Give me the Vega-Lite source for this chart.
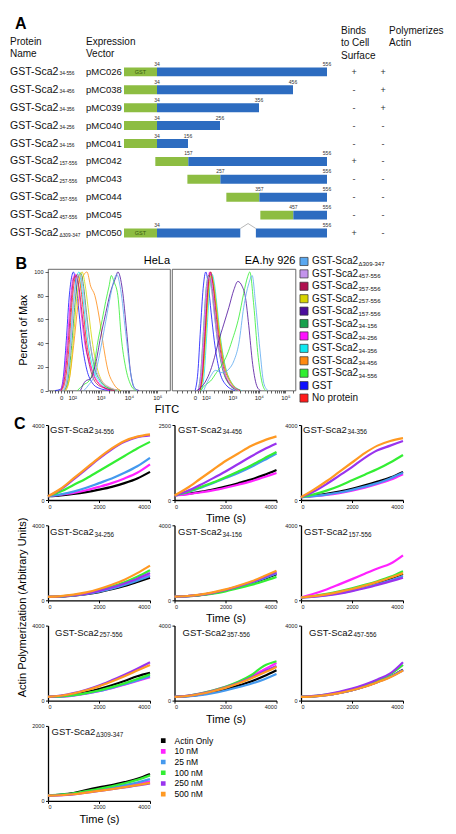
{
"$schema":"https://vega.github.io/schema/vega-lite/v6.json",
"padding":{"left":10,"top":15,"right":0,"bottom":0},
"config":{"font":"Liberation Sans","view":{"stroke":null},
 "axis":{"grid":false,"labelFontSize":5.5,"labelColor":"#222","domainColor":"#000","tickColor":"#000","domainWidth":1.3,"tickWidth":1,"tickSize":2.5,"labelPadding":1.5,"labelOverlap":false,"titleFontWeight":"normal","titleFontSize":11,"titleColor":"#000"},
 "title":{"fontWeight":"normal","fontSize":11,"color":"#000"},
 "text":{"color":"#111"}},
"datasets":{
 "constructs":[
  {"name":"GST-Sca2","sub":"34-556","vec":"pMC026","start":34,"end":556,"binds":"+","poly":"+"},
  {"name":"GST-Sca2","sub":"34-456","vec":"pMC038","start":34,"end":456,"binds":"-","poly":"+"},
  {"name":"GST-Sca2","sub":"34-356","vec":"pMC039","start":34,"end":356,"binds":"-","poly":"+"},
  {"name":"GST-Sca2","sub":"34-256","vec":"pMC040","start":34,"end":256,"binds":"-","poly":"-"},
  {"name":"GST-Sca2","sub":"34-156","vec":"pMC041","start":34,"end":156,"binds":"-","poly":"-"},
  {"name":"GST-Sca2","sub":"157-556","vec":"pMC042","start":157,"end":556,"binds":"+","poly":"-"},
  {"name":"GST-Sca2","sub":"257-556","vec":"pMC043","start":257,"end":556,"binds":"-","poly":"-"},
  {"name":"GST-Sca2","sub":"357-556","vec":"pMC044","start":357,"end":556,"binds":"-","poly":"-"},
  {"name":"GST-Sca2","sub":"457-556","vec":"pMC045","start":457,"end":556,"binds":"-","poly":"-"},
  {"name":"GST-Sca2","sub":"Δ309-347","vec":"pMC050","start":34,"end":556,"binds":"+","poly":"-"}],
 "segments":[
  {"vec":"pMC026","s":34,"e":556},{"vec":"pMC038","s":34,"e":456},{"vec":"pMC039","s":34,"e":356},
  {"vec":"pMC040","s":34,"e":256},{"vec":"pMC041","s":34,"e":156},{"vec":"pMC042","s":157,"e":556},
  {"vec":"pMC043","s":257,"e":556},{"vec":"pMC044","s":357,"e":556},{"vec":"pMC045","s":457,"e":556},
  {"vec":"pMC050","s":34,"e":308},{"vec":"pMC050","s":348,"e":556}],
 "legendB":[
  {"k":"Δ309-347","main":"GST-Sca2","sub":"Δ309-347"},{"k":"457-556","main":"GST-Sca2","sub":"457-556"},
  {"k":"357-556","main":"GST-Sca2","sub":"357-556"},{"k":"257-556","main":"GST-Sca2","sub":"257-556"},
  {"k":"157-556","main":"GST-Sca2","sub":"157-556"},{"k":"34-156","main":"GST-Sca2","sub":"34-156"},
  {"k":"34-256","main":"GST-Sca2","sub":"34-256"},{"k":"34-356","main":"GST-Sca2","sub":"34-356"},
  {"k":"34-456","main":"GST-Sca2","sub":"34-456"},{"k":"34-556","main":"GST-Sca2","sub":"34-556"},
  {"k":"GST","main":"GST","sub":""},{"k":"No protein","main":"No protein","sub":""}],
 "flow":[
  {"c":"H","k":"GST","u":1.4,"p":0},{"c":"H","k":"GST","u":1.59,"p":1},{"c":"H","k":"GST","u":1.69,"p":12},{"c":"H","k":"GST","u":1.79,"p":42},{"c":"H","k":"GST","u":1.89,"p":78},{"c":"H","k":"GST","u":1.99,"p":97},{"c":"H","k":"GST","u":2.04,"p":100},{"c":"H","k":"GST","u":2.14,"p":88},{"c":"H","k":"GST","u":2.24,"p":66},{"c":"H","k":"GST","u":2.34,"p":42},{"c":"H","k":"GST","u":2.49,"p":20},{"c":"H","k":"GST","u":2.69,"p":7},{"c":"H","k":"GST","u":2.94,"p":2},{"c":"H","k":"GST","u":3.34,"p":0},
  {"c":"H","k":"No protein","u":1.62,"p":0},{"c":"H","k":"No protein","u":1.75,"p":8},{"c":"H","k":"No protein","u":1.88,"p":35},{"c":"H","k":"No protein","u":1.98,"p":70},{"c":"H","k":"No protein","u":2.1,"p":95},{"c":"H","k":"No protein","u":2.18,"p":98},{"c":"H","k":"No protein","u":2.28,"p":90},{"c":"H","k":"No protein","u":2.38,"p":70},{"c":"H","k":"No protein","u":2.48,"p":46},{"c":"H","k":"No protein","u":2.63,"p":24},{"c":"H","k":"No protein","u":2.83,"p":9},{"c":"H","k":"No protein","u":3.1,"p":3},{"c":"H","k":"No protein","u":3.5,"p":0},
  {"c":"H","k":"34-456","u":1.75,"p":0},{"c":"H","k":"34-456","u":1.9,"p":10},{"c":"H","k":"34-456","u":2.05,"p":38},{"c":"H","k":"34-456","u":2.2,"p":72},{"c":"H","k":"34-456","u":2.32,"p":92},{"c":"H","k":"34-456","u":2.42,"p":98},{"c":"H","k":"34-456","u":2.52,"p":100},{"c":"H","k":"34-456","u":2.65,"p":88},{"c":"H","k":"34-456","u":2.8,"p":80},{"c":"H","k":"34-456","u":2.95,"p":62},{"c":"H","k":"34-456","u":3.1,"p":38},{"c":"H","k":"34-456","u":3.25,"p":18},{"c":"H","k":"34-456","u":3.45,"p":6},{"c":"H","k":"34-456","u":3.7,"p":0},
  {"c":"H","k":"34-356","u":1.68,"p":0},{"c":"H","k":"34-356","u":1.8,"p":8},{"c":"H","k":"34-356","u":1.92,"p":36},{"c":"H","k":"34-356","u":2.03,"p":72},{"c":"H","k":"34-356","u":2.14,"p":94},{"c":"H","k":"34-356","u":2.24,"p":100},{"c":"H","k":"34-356","u":2.34,"p":86},{"c":"H","k":"34-356","u":2.44,"p":64},{"c":"H","k":"34-356","u":2.56,"p":40},{"c":"H","k":"34-356","u":2.72,"p":20},{"c":"H","k":"34-356","u":2.95,"p":8},{"c":"H","k":"34-356","u":3.25,"p":2},{"c":"H","k":"34-356","u":3.6,"p":0},
  {"c":"H","k":"34-256","u":1.58,"p":0},{"c":"H","k":"34-256","u":1.7,"p":10},{"c":"H","k":"34-256","u":1.82,"p":40},{"c":"H","k":"34-256","u":1.93,"p":75},{"c":"H","k":"34-256","u":2.03,"p":95},{"c":"H","k":"34-256","u":2.12,"p":98},{"c":"H","k":"34-256","u":2.22,"p":86},{"c":"H","k":"34-256","u":2.32,"p":64},{"c":"H","k":"34-256","u":2.44,"p":40},{"c":"H","k":"34-256","u":2.6,"p":24},{"c":"H","k":"34-256","u":2.75,"p":14},{"c":"H","k":"34-256","u":2.95,"p":6},{"c":"H","k":"34-256","u":3.3,"p":0},
  {"c":"H","k":"34-156","u":1.72,"p":0},{"c":"H","k":"34-156","u":1.85,"p":9},{"c":"H","k":"34-156","u":1.98,"p":38},{"c":"H","k":"34-156","u":2.1,"p":74},{"c":"H","k":"34-156","u":2.2,"p":95},{"c":"H","k":"34-156","u":2.3,"p":99},{"c":"H","k":"34-156","u":2.4,"p":88},{"c":"H","k":"34-156","u":2.5,"p":66},{"c":"H","k":"34-156","u":2.62,"p":42},{"c":"H","k":"34-156","u":2.78,"p":20},{"c":"H","k":"34-156","u":3.0,"p":8},{"c":"H","k":"34-156","u":3.3,"p":2},{"c":"H","k":"34-156","u":3.7,"p":0},
  {"c":"H","k":"257-556","u":1.78,"p":0},{"c":"H","k":"257-556","u":1.9,"p":10},{"c":"H","k":"257-556","u":2.03,"p":40},{"c":"H","k":"257-556","u":2.15,"p":75},{"c":"H","k":"257-556","u":2.26,"p":95},{"c":"H","k":"257-556","u":2.35,"p":100},{"c":"H","k":"257-556","u":2.45,"p":90},{"c":"H","k":"257-556","u":2.56,"p":70},{"c":"H","k":"257-556","u":2.68,"p":46},{"c":"H","k":"257-556","u":2.85,"p":22},{"c":"H","k":"257-556","u":3.05,"p":8},{"c":"H","k":"257-556","u":3.35,"p":2},{"c":"H","k":"257-556","u":3.7,"p":0},
  {"c":"H","k":"357-556","u":1.6,"p":0},{"c":"H","k":"357-556","u":1.72,"p":9},{"c":"H","k":"357-556","u":1.85,"p":38},{"c":"H","k":"357-556","u":1.96,"p":74},{"c":"H","k":"357-556","u":2.06,"p":95},{"c":"H","k":"357-556","u":2.15,"p":97},{"c":"H","k":"357-556","u":2.25,"p":85},{"c":"H","k":"357-556","u":2.36,"p":62},{"c":"H","k":"357-556","u":2.48,"p":38},{"c":"H","k":"357-556","u":2.64,"p":18},{"c":"H","k":"357-556","u":2.85,"p":6},{"c":"H","k":"357-556","u":3.15,"p":2},{"c":"H","k":"357-556","u":3.5,"p":0},
  {"c":"H","k":"457-556","u":1.7,"p":0},{"c":"H","k":"457-556","u":1.82,"p":10},{"c":"H","k":"457-556","u":1.95,"p":40},{"c":"H","k":"457-556","u":2.06,"p":76},{"c":"H","k":"457-556","u":2.17,"p":94},{"c":"H","k":"457-556","u":2.27,"p":98},{"c":"H","k":"457-556","u":2.37,"p":88},{"c":"H","k":"457-556","u":2.47,"p":68},{"c":"H","k":"457-556","u":2.6,"p":44},{"c":"H","k":"457-556","u":2.76,"p":24},{"c":"H","k":"457-556","u":2.98,"p":10},{"c":"H","k":"457-556","u":3.3,"p":3},{"c":"H","k":"457-556","u":3.65,"p":0},
  {"c":"H","k":"34-556","u":2.18,"p":0},{"c":"H","k":"34-556","u":2.41,"p":5},{"c":"H","k":"34-556","u":2.59,"p":8},{"c":"H","k":"34-556","u":2.77,"p":20},{"c":"H","k":"34-556","u":2.88,"p":38},{"c":"H","k":"34-556","u":3.06,"p":60},{"c":"H","k":"34-556","u":3.18,"p":75},{"c":"H","k":"34-556","u":3.3,"p":88},{"c":"H","k":"34-556","u":3.38,"p":97},{"c":"H","k":"34-556","u":3.47,"p":92},{"c":"H","k":"34-556","u":3.61,"p":80},{"c":"H","k":"34-556","u":3.73,"p":45},{"c":"H","k":"34-556","u":3.88,"p":20},{"c":"H","k":"34-556","u":4.06,"p":5},{"c":"H","k":"34-556","u":4.24,"p":0},
  {"c":"H","k":"157-556","u":2.29,"p":0},{"c":"H","k":"157-556","u":2.47,"p":8},{"c":"H","k":"157-556","u":2.65,"p":10},{"c":"H","k":"157-556","u":2.82,"p":22},{"c":"H","k":"157-556","u":3.0,"p":45},{"c":"H","k":"157-556","u":3.18,"p":65},{"c":"H","k":"157-556","u":3.35,"p":83},{"c":"H","k":"157-556","u":3.53,"p":95},{"c":"H","k":"157-556","u":3.61,"p":100},{"c":"H","k":"157-556","u":3.77,"p":85},{"c":"H","k":"157-556","u":3.92,"p":50},{"c":"H","k":"157-556","u":4.06,"p":15},{"c":"H","k":"157-556","u":4.2,"p":2},{"c":"H","k":"157-556","u":4.36,"p":0},
  {"c":"H","k":"Δ309-347","u":2.41,"p":0},{"c":"H","k":"Δ309-347","u":2.59,"p":5},{"c":"H","k":"Δ309-347","u":2.82,"p":15},{"c":"H","k":"Δ309-347","u":3.0,"p":35},{"c":"H","k":"Δ309-347","u":3.18,"p":58},{"c":"H","k":"Δ309-347","u":3.35,"p":80},{"c":"H","k":"Δ309-347","u":3.5,"p":95},{"c":"H","k":"Δ309-347","u":3.57,"p":98},{"c":"H","k":"Δ309-347","u":3.71,"p":85},{"c":"H","k":"Δ309-347","u":3.88,"p":50},{"c":"H","k":"Δ309-347","u":4.04,"p":18},{"c":"H","k":"Δ309-347","u":4.18,"p":3},{"c":"H","k":"Δ309-347","u":4.3,"p":0},
  {"c":"E","k":"GST","u":1.6,"p":0},{"c":"E","k":"GST","u":1.7,"p":15},{"c":"E","k":"GST","u":1.8,"p":52},{"c":"E","k":"GST","u":1.9,"p":86},{"c":"E","k":"GST","u":2.0,"p":100},{"c":"E","k":"GST","u":2.1,"p":88},{"c":"E","k":"GST","u":2.2,"p":66},{"c":"E","k":"GST","u":2.32,"p":42},{"c":"E","k":"GST","u":2.5,"p":18},{"c":"E","k":"GST","u":2.75,"p":5},{"c":"E","k":"GST","u":3.1,"p":0},
  {"c":"E","k":"No protein","u":1.78,"p":0},{"c":"E","k":"No protein","u":1.88,"p":14},{"c":"E","k":"No protein","u":1.98,"p":48},{"c":"E","k":"No protein","u":2.08,"p":84},{"c":"E","k":"No protein","u":2.18,"p":98},{"c":"E","k":"No protein","u":2.28,"p":90},{"c":"E","k":"No protein","u":2.38,"p":72},{"c":"E","k":"No protein","u":2.5,"p":48},{"c":"E","k":"No protein","u":2.68,"p":22},{"c":"E","k":"No protein","u":2.93,"p":7},{"c":"E","k":"No protein","u":3.3,"p":0},
  {"c":"E","k":"34-456","u":1.78,"p":0},{"c":"E","k":"34-456","u":1.88,"p":12},{"c":"E","k":"34-456","u":1.98,"p":45},{"c":"E","k":"34-456","u":2.08,"p":82},{"c":"E","k":"34-456","u":2.18,"p":100},{"c":"E","k":"34-456","u":2.28,"p":92},{"c":"E","k":"34-456","u":2.38,"p":75},{"c":"E","k":"34-456","u":2.5,"p":50},{"c":"E","k":"34-456","u":2.68,"p":25},{"c":"E","k":"34-456","u":2.93,"p":8},{"c":"E","k":"34-456","u":3.3,"p":0},
  {"c":"E","k":"34-356","u":1.84,"p":0},{"c":"E","k":"34-356","u":1.94,"p":14},{"c":"E","k":"34-356","u":2.04,"p":48},{"c":"E","k":"34-356","u":2.14,"p":84},{"c":"E","k":"34-356","u":2.24,"p":98},{"c":"E","k":"34-356","u":2.34,"p":88},{"c":"E","k":"34-356","u":2.44,"p":68},{"c":"E","k":"34-356","u":2.56,"p":44},{"c":"E","k":"34-356","u":2.74,"p":20},{"c":"E","k":"34-356","u":2.99,"p":6},{"c":"E","k":"34-356","u":3.35,"p":0},
  {"c":"E","k":"34-256","u":1.75,"p":0},{"c":"E","k":"34-256","u":1.85,"p":16},{"c":"E","k":"34-256","u":1.95,"p":50},{"c":"E","k":"34-256","u":2.05,"p":86},{"c":"E","k":"34-256","u":2.15,"p":100},{"c":"E","k":"34-256","u":2.25,"p":86},{"c":"E","k":"34-256","u":2.35,"p":64},{"c":"E","k":"34-256","u":2.47,"p":40},{"c":"E","k":"34-256","u":2.65,"p":18},{"c":"E","k":"34-256","u":2.9,"p":5},{"c":"E","k":"34-256","u":3.25,"p":0},
  {"c":"E","k":"34-156","u":1.71,"p":0},{"c":"E","k":"34-156","u":1.81,"p":15},{"c":"E","k":"34-156","u":1.91,"p":50},{"c":"E","k":"34-156","u":2.01,"p":85},{"c":"E","k":"34-156","u":2.11,"p":97},{"c":"E","k":"34-156","u":2.21,"p":88},{"c":"E","k":"34-156","u":2.31,"p":68},{"c":"E","k":"34-156","u":2.43,"p":44},{"c":"E","k":"34-156","u":2.61,"p":20},{"c":"E","k":"34-156","u":2.86,"p":6},{"c":"E","k":"34-156","u":3.2,"p":0},
  {"c":"E","k":"257-556","u":1.8,"p":0},{"c":"E","k":"257-556","u":1.9,"p":14},{"c":"E","k":"257-556","u":2.0,"p":46},{"c":"E","k":"257-556","u":2.1,"p":82},{"c":"E","k":"257-556","u":2.2,"p":97},{"c":"E","k":"257-556","u":2.3,"p":90},{"c":"E","k":"257-556","u":2.4,"p":72},{"c":"E","k":"257-556","u":2.52,"p":48},{"c":"E","k":"257-556","u":2.7,"p":22},{"c":"E","k":"257-556","u":2.95,"p":7},{"c":"E","k":"257-556","u":3.3,"p":0},
  {"c":"E","k":"357-556","u":1.78,"p":0},{"c":"E","k":"357-556","u":1.88,"p":15},{"c":"E","k":"357-556","u":1.98,"p":50},{"c":"E","k":"357-556","u":2.08,"p":86},{"c":"E","k":"357-556","u":2.18,"p":100},{"c":"E","k":"357-556","u":2.28,"p":88},{"c":"E","k":"357-556","u":2.38,"p":66},{"c":"E","k":"357-556","u":2.5,"p":42},{"c":"E","k":"357-556","u":2.68,"p":18},{"c":"E","k":"357-556","u":2.93,"p":5},{"c":"E","k":"357-556","u":3.3,"p":0},
  {"c":"E","k":"457-556","u":1.71,"p":0},{"c":"E","k":"457-556","u":1.81,"p":14},{"c":"E","k":"457-556","u":1.91,"p":48},{"c":"E","k":"457-556","u":2.01,"p":84},{"c":"E","k":"457-556","u":2.11,"p":96},{"c":"E","k":"457-556","u":2.21,"p":86},{"c":"E","k":"457-556","u":2.31,"p":66},{"c":"E","k":"457-556","u":2.43,"p":44},{"c":"E","k":"457-556","u":2.61,"p":22},{"c":"E","k":"457-556","u":2.86,"p":8},{"c":"E","k":"457-556","u":3.25,"p":0},
  {"c":"E","k":"34-556","u":1.8,"p":0},{"c":"E","k":"34-556","u":2.0,"p":5},{"c":"E","k":"34-556","u":2.18,"p":8},{"c":"E","k":"34-556","u":2.4,"p":15},{"c":"E","k":"34-556","u":2.62,"p":22},{"c":"E","k":"34-556","u":2.8,"p":30},{"c":"E","k":"34-556","u":2.99,"p":42},{"c":"E","k":"34-556","u":3.25,"p":62},{"c":"E","k":"34-556","u":3.43,"p":82},{"c":"E","k":"34-556","u":3.58,"p":96},{"c":"E","k":"34-556","u":3.66,"p":100},{"c":"E","k":"34-556","u":3.81,"p":72},{"c":"E","k":"34-556","u":3.96,"p":32},{"c":"E","k":"34-556","u":4.13,"p":6},{"c":"E","k":"34-556","u":4.25,"p":0},
  {"c":"E","k":"157-556","u":1.67,"p":0},{"c":"E","k":"157-556","u":2.0,"p":8},{"c":"E","k":"157-556","u":2.18,"p":17},{"c":"E","k":"157-556","u":2.33,"p":28},{"c":"E","k":"157-556","u":2.49,"p":42},{"c":"E","k":"157-556","u":2.68,"p":56},{"c":"E","k":"157-556","u":2.87,"p":70},{"c":"E","k":"157-556","u":3.06,"p":85},{"c":"E","k":"157-556","u":3.21,"p":92},{"c":"E","k":"157-556","u":3.37,"p":88},{"c":"E","k":"157-556","u":3.5,"p":78},{"c":"E","k":"157-556","u":3.62,"p":55},{"c":"E","k":"157-556","u":3.77,"p":22},{"c":"E","k":"157-556","u":3.94,"p":3},{"c":"E","k":"157-556","u":4.06,"p":0},
  {"c":"E","k":"Δ309-347","u":1.92,"p":0},{"c":"E","k":"Δ309-347","u":2.18,"p":12},{"c":"E","k":"Δ309-347","u":2.36,"p":17},{"c":"E","k":"Δ309-347","u":2.62,"p":15},{"c":"E","k":"Δ309-347","u":2.87,"p":18},{"c":"E","k":"Δ309-347","u":3.06,"p":25},{"c":"E","k":"Δ309-347","u":3.25,"p":40},{"c":"E","k":"Δ309-347","u":3.43,"p":70},{"c":"E","k":"Δ309-347","u":3.62,"p":90},{"c":"E","k":"Δ309-347","u":3.75,"p":97},{"c":"E","k":"Δ309-347","u":3.87,"p":75},{"c":"E","k":"Δ309-347","u":4.04,"p":35},{"c":"E","k":"Δ309-347","u":4.19,"p":6},{"c":"E","k":"Δ309-347","u":4.34,"p":0}],
 "poly":[
  {"p":"34-556","t":0,"Actin Only":200,"10 nM":200,"25 nM":200,"100 nM":200,"250 nM":200,"500 nM":200},
  {"p":"34-556","t":500,"Actin Only":250,"10 nM":280,"25 nM":300,"100 nM":450,"250 nM":570,"500 nM":600},
  {"p":"34-556","t":1000,"Actin Only":320,"10 nM":380,"25 nM":450,"100 nM":800,"250 nM":1100,"500 nM":1150},
  {"p":"34-556","t":1500,"Actin Only":420,"10 nM":520,"25 nM":650,"100 nM":1150,"250 nM":1650,"500 nM":1700},
  {"p":"34-556","t":2000,"Actin Only":550,"10 nM":700,"25 nM":900,"100 nM":1550,"250 nM":2200,"500 nM":2250},
  {"p":"34-556","t":2500,"Actin Only":700,"10 nM":900,"25 nM":1150,"100 nM":1950,"250 nM":2700,"500 nM":2750},
  {"p":"34-556","t":3000,"Actin Only":900,"10 nM":1150,"25 nM":1450,"100 nM":2350,"250 nM":3100,"500 nM":3150},
  {"p":"34-556","t":3500,"Actin Only":1150,"10 nM":1450,"25 nM":1800,"100 nM":2750,"250 nM":3350,"500 nM":3380},
  {"p":"34-556","t":4000,"Actin Only":1500,"10 nM":1900,"25 nM":2250,"100 nM":3100,"250 nM":3450,"500 nM":3500},
  {"p":"34-456","t":0,"Actin Only":150,"10 nM":150,"25 nM":150,"100 nM":150,"250 nM":150,"500 nM":150},
  {"p":"34-456","t":500,"Actin Only":200,"10 nM":190,"25 nM":260,"100 nM":270,"250 nM":300,"500 nM":400},
  {"p":"34-456","t":1000,"Actin Only":270,"10 nM":250,"25 nM":400,"100 nM":420,"250 nM":500,"500 nM":700},
  {"p":"34-456","t":1500,"Actin Only":350,"10 nM":320,"25 nM":560,"100 nM":580,"250 nM":720,"500 nM":1000},
  {"p":"34-456","t":2000,"Actin Only":450,"10 nM":410,"25 nM":730,"100 nM":760,"250 nM":950,"500 nM":1300},
  {"p":"34-456","t":2500,"Actin Only":560,"10 nM":510,"25 nM":900,"100 nM":950,"250 nM":1200,"500 nM":1550},
  {"p":"34-456","t":3000,"Actin Only":680,"10 nM":620,"25 nM":1100,"100 nM":1150,"250 nM":1450,"500 nM":1800},
  {"p":"34-456","t":3500,"Actin Only":830,"10 nM":760,"25 nM":1320,"100 nM":1380,"250 nM":1680,"500 nM":1980},
  {"p":"34-456","t":4000,"Actin Only":1000,"10 nM":900,"25 nM":1550,"100 nM":1600,"250 nM":1880,"500 nM":2120},
  {"p":"34-356","t":0,"Actin Only":150,"10 nM":150,"25 nM":150,"100 nM":150,"250 nM":150,"500 nM":150},
  {"p":"34-356","t":500,"Actin Only":230,"10 nM":200,"25 nM":210,"100 nM":300,"250 nM":450,"500 nM":550},
  {"p":"34-356","t":1000,"Actin Only":330,"10 nM":270,"25 nM":290,"100 nM":500,"250 nM":850,"500 nM":1000},
  {"p":"34-356","t":1500,"Actin Only":450,"10 nM":370,"25 nM":400,"100 nM":750,"250 nM":1300,"500 nM":1500},
  {"p":"34-356","t":2000,"Actin Only":600,"10 nM":500,"25 nM":540,"100 nM":1050,"250 nM":1750,"500 nM":2000},
  {"p":"34-356","t":2500,"Actin Only":780,"10 nM":660,"25 nM":710,"100 nM":1350,"250 nM":2250,"500 nM":2500},
  {"p":"34-356","t":3000,"Actin Only":980,"10 nM":850,"25 nM":900,"100 nM":1650,"250 nM":2650,"500 nM":2900},
  {"p":"34-356","t":3500,"Actin Only":1200,"10 nM":1080,"25 nM":1150,"100 nM":2000,"250 nM":2900,"500 nM":3150},
  {"p":"34-356","t":4000,"Actin Only":1500,"10 nM":1380,"25 nM":1450,"100 nM":2400,"250 nM":3150,"500 nM":3300},
  {"p":"34-256","t":0,"Actin Only":180,"10 nM":180,"25 nM":180,"100 nM":180,"250 nM":180,"500 nM":180},
  {"p":"34-256","t":500,"Actin Only":200,"10 nM":205,"25 nM":200,"100 nM":210,"250 nM":210,"500 nM":220},
  {"p":"34-256","t":1000,"Actin Only":250,"10 nM":260,"25 nM":255,"100 nM":280,"250 nM":270,"500 nM":300},
  {"p":"34-256","t":1500,"Actin Only":330,"10 nM":350,"25 nM":340,"100 nM":380,"250 nM":360,"500 nM":420},
  {"p":"34-256","t":2000,"Actin Only":440,"10 nM":480,"25 nM":460,"100 nM":530,"250 nM":500,"500 nM":600},
  {"p":"34-256","t":2500,"Actin Only":590,"10 nM":650,"25 nM":620,"100 nM":730,"250 nM":680,"500 nM":830},
  {"p":"34-256","t":3000,"Actin Only":770,"10 nM":860,"25 nM":820,"100 nM":960,"250 nM":900,"500 nM":1100},
  {"p":"34-256","t":3500,"Actin Only":980,"10 nM":1100,"25 nM":1050,"100 nM":1250,"250 nM":1150,"500 nM":1450},
  {"p":"34-256","t":4000,"Actin Only":1200,"10 nM":1350,"25 nM":1300,"100 nM":1600,"250 nM":1450,"500 nM":1850},
  {"p":"34-156","t":0,"Actin Only":200,"10 nM":200,"25 nM":200,"100 nM":200,"250 nM":200,"500 nM":200},
  {"p":"34-156","t":500,"Actin Only":220,"10 nM":225,"25 nM":220,"100 nM":215,"250 nM":225,"500 nM":230},
  {"p":"34-156","t":1000,"Actin Only":280,"10 nM":290,"25 nM":285,"100 nM":270,"250 nM":290,"500 nM":300},
  {"p":"34-156","t":1500,"Actin Only":380,"10 nM":400,"25 nM":390,"100 nM":360,"250 nM":400,"500 nM":420},
  {"p":"34-156","t":2000,"Actin Only":520,"10 nM":550,"25 nM":530,"100 nM":480,"250 nM":550,"500 nM":580},
  {"p":"34-156","t":2500,"Actin Only":700,"10 nM":730,"25 nM":710,"100 nM":640,"250 nM":740,"500 nM":780},
  {"p":"34-156","t":3000,"Actin Only":900,"10 nM":940,"25 nM":920,"100 nM":820,"250 nM":960,"500 nM":1000},
  {"p":"34-156","t":3500,"Actin Only":1140,"10 nM":1200,"25 nM":1170,"100 nM":1020,"250 nM":1220,"500 nM":1280},
  {"p":"34-156","t":4000,"Actin Only":1400,"10 nM":1450,"25 nM":1430,"100 nM":1250,"250 nM":1500,"500 nM":1580},
  {"p":"157-556","t":0,"Actin Only":150,"10 nM":150,"25 nM":150,"100 nM":150,"250 nM":150,"500 nM":150},
  {"p":"157-556","t":500,"Actin Only":215,"10 nM":350,"25 nM":200,"100 nM":230,"250 nM":190,"500 nM":220},
  {"p":"157-556","t":1000,"Actin Only":310,"10 nM":580,"25 nM":280,"100 nM":340,"250 nM":260,"500 nM":320},
  {"p":"157-556","t":1500,"Actin Only":430,"10 nM":850,"25 nM":390,"100 nM":480,"250 nM":360,"500 nM":450},
  {"p":"157-556","t":2000,"Actin Only":580,"10 nM":1130,"25 nM":520,"100 nM":640,"250 nM":490,"500 nM":600},
  {"p":"157-556","t":2500,"Actin Only":750,"10 nM":1420,"25 nM":680,"100 nM":820,"250 nM":640,"500 nM":780},
  {"p":"157-556","t":3000,"Actin Only":950,"10 nM":1700,"25 nM":860,"100 nM":1020,"250 nM":820,"500 nM":980},
  {"p":"157-556","t":3500,"Actin Only":1170,"10 nM":1950,"25 nM":1060,"100 nM":1250,"250 nM":1010,"500 nM":1200},
  {"p":"157-556","t":4000,"Actin Only":1400,"10 nM":2400,"25 nM":1300,"100 nM":1550,"250 nM":1200,"500 nM":1450},
  {"p":"257-556","t":0,"Actin Only":200,"10 nM":200,"25 nM":200,"100 nM":200,"250 nM":200,"500 nM":200},
  {"p":"257-556","t":500,"Actin Only":240,"10 nM":210,"25 nM":215,"100 nM":220,"250 nM":270,"500 nM":260},
  {"p":"257-556","t":1000,"Actin Only":330,"10 nM":270,"25 nM":280,"100 nM":290,"250 nM":400,"500 nM":380},
  {"p":"257-556","t":1500,"Actin Only":460,"10 nM":370,"25 nM":380,"100 nM":400,"250 nM":580,"500 nM":550},
  {"p":"257-556","t":2000,"Actin Only":620,"10 nM":500,"25 nM":510,"100 nM":540,"250 nM":800,"500 nM":760},
  {"p":"257-556","t":2500,"Actin Only":820,"10 nM":660,"25 nM":680,"100 nM":720,"250 nM":1080,"500 nM":1020},
  {"p":"257-556","t":3000,"Actin Only":1050,"10 nM":850,"25 nM":870,"100 nM":920,"250 nM":1380,"500 nM":1300},
  {"p":"257-556","t":3500,"Actin Only":1300,"10 nM":1050,"25 nM":1080,"100 nM":1150,"250 nM":1700,"500 nM":1600},
  {"p":"257-556","t":4000,"Actin Only":1480,"10 nM":1250,"25 nM":1300,"100 nM":1400,"250 nM":2050,"500 nM":1900},
  {"p":"357-556","t":0,"Actin Only":200,"10 nM":200,"25 nM":200,"100 nM":200,"250 nM":200,"500 nM":200},
  {"p":"357-556","t":500,"Actin Only":235,"10 nM":260,"25 nM":220,"100 nM":260,"250 nM":250,"500 nM":245},
  {"p":"357-556","t":1000,"Actin Only":320,"10 nM":370,"25 nM":290,"100 nM":380,"250 nM":360,"500 nM":350},
  {"p":"357-556","t":1500,"Actin Only":450,"10 nM":530,"25 nM":400,"100 nM":540,"250 nM":510,"500 nM":500},
  {"p":"357-556","t":2000,"Actin Only":610,"10 nM":730,"25 nM":540,"100 nM":740,"250 nM":700,"500 nM":680},
  {"p":"357-556","t":2500,"Actin Only":800,"10 nM":980,"25 nM":710,"100 nM":1000,"250 nM":940,"500 nM":910},
  {"p":"357-556","t":3000,"Actin Only":1020,"10 nM":1300,"25 nM":900,"100 nM":1350,"250 nM":1220,"500 nM":1180},
  {"p":"357-556","t":3500,"Actin Only":1300,"10 nM":1650,"25 nM":1130,"100 nM":1850,"250 nM":1550,"500 nM":1480},
  {"p":"357-556","t":4000,"Actin Only":1620,"10 nM":2000,"25 nM":1420,"100 nM":2100,"250 nM":1850,"500 nM":1800},
  {"p":"457-556","t":0,"Actin Only":200,"10 nM":200,"25 nM":200,"100 nM":200,"250 nM":200,"500 nM":200},
  {"p":"457-556","t":500,"Actin Only":230,"10 nM":225,"25 nM":225,"100 nM":240,"250 nM":250,"500 nM":225},
  {"p":"457-556","t":1000,"Actin Only":300,"10 nM":295,"25 nM":295,"100 nM":320,"250 nM":340,"500 nM":295},
  {"p":"457-556","t":1500,"Actin Only":410,"10 nM":405,"25 nM":405,"100 nM":440,"250 nM":470,"500 nM":400},
  {"p":"457-556","t":2000,"Actin Only":560,"10 nM":555,"25 nM":555,"100 nM":600,"250 nM":640,"500 nM":550},
  {"p":"457-556","t":2500,"Actin Only":760,"10 nM":750,"25 nM":750,"100 nM":810,"250 nM":860,"500 nM":740},
  {"p":"457-556","t":3000,"Actin Only":1000,"10 nM":990,"25 nM":990,"100 nM":1080,"250 nM":1130,"500 nM":980},
  {"p":"457-556","t":3500,"Actin Only":1280,"10 nM":1270,"25 nM":1270,"100 nM":1400,"250 nM":1450,"500 nM":1250},
  {"p":"457-556","t":4000,"Actin Only":1650,"10 nM":1620,"25 nM":1620,"100 nM":1900,"250 nM":2050,"500 nM":1600},
  {"p":"Δ309-347","t":0,"Actin Only":150,"10 nM":150,"25 nM":150,"100 nM":150,"250 nM":140,"500 nM":140},
  {"p":"Δ309-347","t":500,"Actin Only":170,"10 nM":155,"25 nM":160,"100 nM":165,"250 nM":150,"500 nM":150},
  {"p":"Δ309-347","t":1000,"Actin Only":210,"10 nM":185,"25 nM":190,"100 nM":200,"250 nM":175,"500 nM":178},
  {"p":"Δ309-347","t":1500,"Actin Only":290,"10 nM":230,"25 nM":240,"100 nM":260,"250 nM":220,"500 nM":222},
  {"p":"Δ309-347","t":2000,"Actin Only":360,"10 nM":280,"25 nM":290,"100 nM":320,"250 nM":265,"500 nM":268},
  {"p":"Δ309-347","t":2500,"Actin Only":420,"10 nM":330,"25 nM":350,"100 nM":390,"250 nM":310,"500 nM":315},
  {"p":"Δ309-347","t":3000,"Actin Only":500,"10 nM":390,"25 nM":420,"100 nM":470,"250 nM":360,"500 nM":365},
  {"p":"Δ309-347","t":3500,"Actin Only":590,"10 nM":450,"25 nM":490,"100 nM":560,"250 nM":410,"500 nM":420},
  {"p":"Δ309-347","t":4000,"Actin Only":720,"10 nM":520,"25 nM":580,"100 nM":680,"250 nM":470,"500 nM":480}]
},
"vconcat":[
 {"vconcat":[
  {"hconcat":[
    {"width":38,"height":197,
     "layer":[
      {"data":{"name":"constructs"},"mark":{"type":"text","align":"left","baseline":"middle","fontSize":10.5},
       "encoding":{"x":{"datum":"name","type":"nominal","scale":{"type":"point","domain":["name","vec"],"range":[-38,38],"padding":0},"axis":null},
        "y":{"field":"vec","type":"nominal","scale":{"type":"band","domain":["hdr","pMC026","pMC038","pMC039","pMC040","pMC041","pMC042","pMC043","pMC044","pMC045","pMC050"],"paddingInner":0.5,"paddingOuter":0.25},"axis":null},
        "text":{"field":"name"}}},
      {"data":{"name":"constructs"},"mark":{"type":"text","align":"left","baseline":"middle","fontSize":4.8,"dx":49.5,"dy":2.5},
       "encoding":{"x":{"datum":"name","type":"nominal"},"y":{"field":"vec","type":"nominal"},"text":{"field":"sub"}}},
      {"data":{"name":"constructs"},"mark":{"type":"text","align":"left","baseline":"middle","fontSize":9.5},
       "encoding":{"x":{"datum":"vec","type":"nominal"},"y":{"field":"vec","type":"nominal"},"text":{"field":"vec"}}},
      {"data":{"values":[{"h":"Protein\nName","c":"name"},{"h":"Expression\nVector","c":"vec"}]},
       "mark":{"type":"text","align":"left","baseline":"bottom","fontSize":10,"lineBreak":"\n","lineHeight":12.5,"dy":-7},
       "encoding":{"x":{"field":"c","type":"nominal"},"y":{"datum":"hdr","type":"nominal"},"text":{"field":"h"}}},
      {"data":{"values":[{"l":"A"}]},
       "mark":{"type":"text","align":"left","baseline":"alphabetic","fontSize":16,"fontWeight":"bold","color":"#000","dx":5,"dy":-25},
       "encoding":{"x":{"datum":"name","type":"nominal"},"y":{"datum":"hdr","type":"nominal"},"text":{"field":"l"}}}
     ]},
    {"width":228,"height":197,
     "layer":[
      {"data":{"name":"constructs"},"mark":{"type":"bar","xOffset":-33,"color":"#8dbd42"},
       "encoding":{"x":{"field":"start","type":"quantitative","scale":{"type":"linear","domain":[34,156,256,356,456,556],"range":[51,82,114,153,187,221],"nice":false,"zero":false},"axis":null},
        "x2":{"field":"start"},
        "y":{"field":"vec","type":"nominal","scale":{"type":"band","domain":["hdr","pMC026","pMC038","pMC039","pMC040","pMC041","pMC042","pMC043","pMC044","pMC045","pMC050"],"paddingInner":0.5,"paddingOuter":0.25},"axis":null}}},
      {"data":{"name":"segments"},"mark":{"type":"bar","color":"#2d6cc0"},
       "encoding":{"x":{"field":"s","type":"quantitative"},"x2":{"field":"e"},"y":{"field":"vec","type":"nominal"}}},
      {"data":{"name":"constructs"},"transform":[{"filter":"datum.vec=='pMC026' || datum.vec=='pMC050'"}],
       "mark":{"type":"text","text":"GST","fontSize":5.5,"dx":-16.5,"color":"#3a5a12","baseline":"middle"},
       "encoding":{"x":{"field":"start","type":"quantitative"},"y":{"field":"vec","type":"nominal"}}},
      {"data":{"name":"constructs"},"mark":{"type":"text","fontSize":5,"dy":-8,"color":"#333","baseline":"middle"},
       "encoding":{"x":{"field":"start","type":"quantitative"},"y":{"field":"vec","type":"nominal"},"text":{"field":"start"}}},
      {"data":{"name":"constructs"},"mark":{"type":"text","fontSize":5,"dy":-8,"color":"#333","baseline":"middle"},
       "encoding":{"x":{"field":"end","type":"quantitative"},"y":{"field":"vec","type":"nominal"},"text":{"field":"end"}}},
      {"data":{"values":[{"vec":"pMC050","a":308,"b":328}]},"mark":{"type":"rule","color":"#999","strokeWidth":0.7,"yOffset":-4.5,"y2Offset":-9.5},
       "encoding":{"x":{"field":"a","type":"quantitative"},"x2":{"field":"b"},"y":{"field":"vec","type":"nominal"},"y2":{"field":"vec"}}},
      {"data":{"values":[{"vec":"pMC050","a":328,"b":348}]},"mark":{"type":"rule","color":"#999","strokeWidth":0.7,"yOffset":-9.5,"y2Offset":-4.5},
       "encoding":{"x":{"field":"a","type":"quantitative"},"x2":{"field":"b"},"y":{"field":"vec","type":"nominal"},"y2":{"field":"vec"}}}
     ]},
    {"width":29,"height":197,
     "layer":[
      {"data":{"name":"constructs"},"mark":{"type":"text","fontSize":9,"baseline":"middle","color":"#333"},
       "encoding":{"x":{"datum":"binds","type":"nominal","scale":{"type":"point","domain":["binds","poly"],"range":[0,29],"padding":0},"axis":null},
        "y":{"field":"vec","type":"nominal","scale":{"type":"band","domain":["hdr","pMC026","pMC038","pMC039","pMC040","pMC041","pMC042","pMC043","pMC044","pMC045","pMC050"],"paddingInner":0.5,"paddingOuter":0.25},"axis":null},
        "text":{"field":"binds"}}},
      {"data":{"name":"constructs"},"mark":{"type":"text","fontSize":9,"baseline":"middle","color":"#333"},
       "encoding":{"x":{"datum":"poly","type":"nominal"},"y":{"field":"vec","type":"nominal"},"text":{"field":"poly"}}},
      {"data":{"values":[{"h":"Binds\nto Cell\nSurface"}]},"mark":{"type":"text","align":"left","baseline":"bottom","fontSize":10,"lineBreak":"\n","lineHeight":12.5,"dy":-18,"dx":-13},
       "encoding":{"x":{"datum":"binds","type":"nominal"},"y":{"datum":"hdr","type":"nominal"},"text":{"field":"h"}}},
      {"data":{"values":[{"h":"Polymerizes\nActin"}]},"mark":{"type":"text","align":"left","baseline":"bottom","fontSize":10,"lineBreak":"\n","lineHeight":12.5,"dy":-18,"dx":6},
       "encoding":{"x":{"datum":"poly","type":"nominal"},"y":{"datum":"hdr","type":"nominal"},"text":{"field":"h"}}}
     ]}
   ],
   "spacing":20,"bounds":"flush"},
  {"hconcat":[
    {"width":122,"height":121.5,
     "view":{"stroke":"#444","strokeWidth":0.8},
     "title":{"text":"HeLa","anchor":"end","frame":"group","offset":3,"fontSize":11},
     "data":{"name":"flow"},"transform":[{"filter":"datum.c=='H'"}],
     "mark":{"type":"line","strokeWidth":0.8,"interpolate":"monotone"},
     "encoding":{
        "x":{"field":"u","type":"quantitative","scale":{"domain":[1.145,5.45],"nice":false,"zero":false},
          "axis":{"values":[1.2,1.3,1.4,1.5,1.61,1.7,1.8,1.9,2,2.301,2.477,2.602,2.699,2.778,2.845,2.903,2.954,3,3.301,3.477,3.602,3.699,3.778,3.845,3.903,3.954,4,4.301,4.477,4.602,4.699,4.778,4.845,4.903,4.954,5,5.301],
            "labelExpr":"abs(datum.value-1.61)<0.001 ? '0' : datum.value==2 ? '10²' : datum.value==3 ? '10³' : datum.value==4 ? '10⁴' : datum.value==5 ? '10⁵' : ''",
            "domain":false,"tickWidth":0.6,"tickSize":2.5,"labelFontSize":6,"labelPadding":1.5,"title":"FITC","titleX":118.5,"titleY":22,"titleBaseline":"alphabetic","titleFontSize":11}},
        "y":{"field":"p","type":"quantitative","scale":{"domain":[0,102.5],"nice":false},
          "axis":{"values":[0,20,40,60,80,100],"domain":false,"tickWidth":0.6,"tickSize":3,"labelPadding":2,"title":"Percent of Max","titleFontSize":10.5,"titleX":-19.5,"titleY":60.75}},
        "color":{"field":"k","type":"nominal","scale":{"domain":["Δ309-347","457-556","357-556","257-556","157-556","34-156","34-256","34-356","34-456","34-556","GST","No protein"],"range":["#5aa8f0","#c494ec","#b01050","#d8d400","#4b0c9c","#18a04c","#ff10ff","#10e8f0","#ff8a10","#30ee30","#1010ff","#ff1a1a"]},"legend":null}}},
    {"width":123.5,"height":121.5,
     "view":{"stroke":"#444","strokeWidth":0.8},
     "title":{"text":"EA.hy 926","anchor":"end","frame":"group","offset":3,"fontSize":11},
     "data":{"name":"flow"},"transform":[{"filter":"datum.c=='E'"}],
     "mark":{"type":"line","strokeWidth":0.8,"interpolate":"monotone"},
     "encoding":{
        "x":{"field":"u","type":"quantitative","scale":{"domain":[0.725,5.385],"nice":false,"zero":false},
          "axis":{"values":[0.9,1.1,1.3,1.45,1.59,1.7,1.8,1.9,2,2.301,2.477,2.602,2.699,2.778,2.845,2.903,2.954,3,3.301,3.477,3.602,3.699,3.778,3.845,3.903,3.954,4,4.301,4.477,4.602,4.699,4.778,4.845,4.903,4.954,5,5.301],
            "labelExpr":"abs(datum.value-1.59)<0.001 ? '0' : datum.value==2 ? '10²' : datum.value==3 ? '10³' : datum.value==4 ? '10⁴' : datum.value==5 ? '10⁵' : ''",
            "domain":false,"tickWidth":0.6,"tickSize":2.5,"labelFontSize":6,"labelPadding":1.5,"title":null}},
        "y":{"field":"p","type":"quantitative","scale":{"domain":[0,102.5],"nice":false},"axis":null},
        "color":{"field":"k","type":"nominal","scale":{"domain":["Δ309-347","457-556","357-556","257-556","157-556","34-156","34-256","34-356","34-456","34-556","GST","No protein"],"range":["#5aa8f0","#c494ec","#b01050","#d8d400","#4b0c9c","#18a04c","#ff10ff","#10e8f0","#ff8a10","#30ee30","#1010ff","#ff1a1a"]},"legend":null}}},
    {"width":12,"height":149,
     "data":{"name":"legendB"},
     "layer":[
      {"mark":{"type":"point","shape":"square","size":66,"filled":true,"opacity":1,"stroke":"#333","strokeWidth":0.7},
       "encoding":{"y":{"field":"k","type":"nominal","scale":{"type":"band","domain":["Δ309-347","457-556","357-556","257-556","157-556","34-156","34-256","34-356","34-456","34-556","GST","No protein"],"paddingInner":0,"paddingOuter":0},"axis":null},
        "color":{"field":"k","type":"nominal","scale":{"domain":["Δ309-347","457-556","357-556","257-556","157-556","34-156","34-256","34-356","34-456","34-556","GST","No protein"],"range":["#5aa8f0","#c494ec","#b01050","#d8d400","#4b0c9c","#18a04c","#ff10ff","#10e8f0","#ff8a10","#30ee30","#1010ff","#ff1a1a"]},"legend":null}}},
      {"mark":{"type":"text","align":"left","baseline":"middle","fontSize":10,"dx":8},
       "encoding":{"y":{"field":"k","type":"nominal"},"text":{"field":"main"}}},
      {"mark":{"type":"text","align":"left","baseline":"middle","fontSize":6,"dx":54.5,"dy":2.5},
       "encoding":{"y":{"field":"k","type":"nominal"},"text":{"field":"sub"}}},
      {"data":{"values":[{"l":"B","k":"Δ309-347"}]},
       "mark":{"type":"text","align":"left","baseline":"alphabetic","fontSize":16,"fontWeight":"bold","color":"#000","dx":-288.5,"dy":8},
       "encoding":{"y":{"field":"k","type":"nominal"},"text":{"field":"l"}}}
     ]}
   ],
   "spacing":2,"bounds":"flush","center":true,
   "resolve":{"scale":{"color":"independent"},"legend":{"color":"independent"}}}
 ],
 "spacing":12.25,
 "resolve":{"scale":{"color":"independent"},"legend":{"color":"independent"}}},
 {"concat":[
  {"width":102,"height":75,"layer":[
   {"data":{"name":"poly"},"transform":[{"filter":"datum.p=='34-556'"},{"fold":["Actin Only","10 nM","25 nM","100 nM","250 nM","500 nM"],"as":["conc","v"]}],
    "mark":{"type":"line","strokeWidth":2.2,"interpolate":"monotone"},
    "encoding":{"x":{"field":"t","type":"quantitative","scale":{"domain":[0,4000],"nice":false},"axis":{"values":[0,1000,2000,3000,4000],"format":"d","title":null}},
     "y":{"field":"v","type":"quantitative","scale":{"domain":[0,4000],"nice":false},"axis":{"values":[0,1000,2000,3000,4000],"format":"d","title":null}},
     "color":{"field":"conc","type":"nominal","scale":{"domain":["Actin Only","10 nM","25 nM","100 nM","250 nM","500 nM"],"range":["#000000","#ff22ff","#4499ee","#33ee33","#9933ee","#ff9922"]},"legend":null}}},
   {"data":{"values":[{"m":"GST-Sca2","s":"34-556","l":"C"}]},"layer":[
    {"mark":{"type":"text","align":"left","baseline":"alphabetic","fontSize":9.5,"dx":2,"dy":7.5},"encoding":{"x":{"datum":0},"y":{"datum":4000},"text":{"field":"m"}}},
    {"mark":{"type":"text","align":"left","baseline":"alphabetic","fontSize":6.3,"dx":46.5,"dy":9},"encoding":{"x":{"datum":0},"y":{"datum":4000},"text":{"field":"s"}}},
    {"mark":{"type":"text","align":"left","baseline":"alphabetic","fontSize":16,"fontWeight":"bold","color":"#000","dx":-34,"dy":3.5},"encoding":{"x":{"datum":0},"y":{"datum":4000},"text":{"field":"l"}}}]}]},
  {"width":102,"height":75,"layer":[
   {"data":{"name":"poly"},"transform":[{"filter":"datum.p=='34-456'"},{"fold":["Actin Only","10 nM","25 nM","100 nM","250 nM","500 nM"],"as":["conc","v"]}],
    "mark":{"type":"line","strokeWidth":2.2,"interpolate":"monotone"},
    "encoding":{"x":{"field":"t","type":"quantitative","scale":{"domain":[0,4000],"nice":false},"axis":{"values":[0,1000,2000,3000,4000],"format":"d","title":"Time (s)","titlePadding":3}},
     "y":{"field":"v","type":"quantitative","scale":{"domain":[0,2500],"nice":false},"axis":{"values":[0,500,1000,1500,2000,2500],"format":"d","title":null}},
     "color":{"field":"conc","type":"nominal","scale":{"domain":["Actin Only","10 nM","25 nM","100 nM","250 nM","500 nM"],"range":["#000000","#ff22ff","#4499ee","#33ee33","#9933ee","#ff9922"]},"legend":null}}},
   {"data":{"values":[{"m":"GST-Sca2","s":"34-456"}]},"layer":[
    {"mark":{"type":"text","align":"left","baseline":"alphabetic","fontSize":9.5,"dx":3.5,"dy":7.5},"encoding":{"x":{"datum":0},"y":{"datum":2500},"text":{"field":"m"}}},
    {"mark":{"type":"text","align":"left","baseline":"alphabetic","fontSize":6.3,"dx":48,"dy":9},"encoding":{"x":{"datum":0},"y":{"datum":2500},"text":{"field":"s"}}}]}]},
  {"width":102,"height":75,"layer":[
   {"data":{"name":"poly"},"transform":[{"filter":"datum.p=='34-356'"},{"fold":["Actin Only","10 nM","25 nM","100 nM","250 nM","500 nM"],"as":["conc","v"]}],
    "mark":{"type":"line","strokeWidth":2.2,"interpolate":"monotone"},
    "encoding":{"x":{"field":"t","type":"quantitative","scale":{"domain":[0,4000],"nice":false},"axis":{"values":[0,1000,2000,3000,4000],"format":"d","title":null}},
     "y":{"field":"v","type":"quantitative","scale":{"domain":[0,4000],"nice":false},"axis":{"values":[0,1000,2000,3000,4000],"format":"d","title":null}},
     "color":{"field":"conc","type":"nominal","scale":{"domain":["Actin Only","10 nM","25 nM","100 nM","250 nM","500 nM"],"range":["#000000","#ff22ff","#4499ee","#33ee33","#9933ee","#ff9922"]},"legend":null}}},
   {"data":{"values":[{"m":"GST-Sca2","s":"34-356"}]},"layer":[
    {"mark":{"type":"text","align":"left","baseline":"alphabetic","fontSize":9.5,"dx":2,"dy":7.5},"encoding":{"x":{"datum":0},"y":{"datum":4000},"text":{"field":"m"}}},
    {"mark":{"type":"text","align":"left","baseline":"alphabetic","fontSize":6.3,"dx":46.5,"dy":9},"encoding":{"x":{"datum":0},"y":{"datum":4000},"text":{"field":"s"}}}]}]},
  {"width":102,"height":75,"layer":[
   {"data":{"name":"poly"},"transform":[{"filter":"datum.p=='34-256'"},{"fold":["Actin Only","10 nM","25 nM","100 nM","250 nM","500 nM"],"as":["conc","v"]}],
    "mark":{"type":"line","strokeWidth":2.2,"interpolate":"monotone"},
    "encoding":{"x":{"field":"t","type":"quantitative","scale":{"domain":[0,4000],"nice":false},"axis":{"values":[0,1000,2000,3000,4000],"format":"d","title":null}},
     "y":{"field":"v","type":"quantitative","scale":{"domain":[0,4000],"nice":false},"axis":{"values":[0,1000,2000,3000,4000],"format":"d","title":"Actin Polymerization (Arbitrary Units)","titleX":-21,"titleY":81.7}},
     "color":{"field":"conc","type":"nominal","scale":{"domain":["Actin Only","10 nM","25 nM","100 nM","250 nM","500 nM"],"range":["#000000","#ff22ff","#4499ee","#33ee33","#9933ee","#ff9922"]},"legend":null}}},
   {"data":{"values":[{"m":"GST-Sca2","s":"34-256"}]},"layer":[
    {"mark":{"type":"text","align":"left","baseline":"alphabetic","fontSize":9.5,"dx":2,"dy":10},"encoding":{"x":{"datum":0},"y":{"datum":4000},"text":{"field":"m"}}},
    {"mark":{"type":"text","align":"left","baseline":"alphabetic","fontSize":6.3,"dx":46.5,"dy":11.5},"encoding":{"x":{"datum":0},"y":{"datum":4000},"text":{"field":"s"}}}]}]},
  {"width":102,"height":75,"layer":[
   {"data":{"name":"poly"},"transform":[{"filter":"datum.p=='34-156'"},{"fold":["Actin Only","10 nM","25 nM","100 nM","250 nM","500 nM"],"as":["conc","v"]}],
    "mark":{"type":"line","strokeWidth":2.2,"interpolate":"monotone"},
    "encoding":{"x":{"field":"t","type":"quantitative","scale":{"domain":[0,4000],"nice":false},"axis":{"values":[0,1000,2000,3000,4000],"format":"d","title":"Time (s)","titlePadding":3}},
     "y":{"field":"v","type":"quantitative","scale":{"domain":[0,4000],"nice":false},"axis":{"values":[0,1000,2000,3000,4000],"format":"d","title":null}},
     "color":{"field":"conc","type":"nominal","scale":{"domain":["Actin Only","10 nM","25 nM","100 nM","250 nM","500 nM"],"range":["#000000","#ff22ff","#4499ee","#33ee33","#9933ee","#ff9922"]},"legend":null}}},
   {"data":{"values":[{"m":"GST-Sca2","s":"34-156"}]},"layer":[
    {"mark":{"type":"text","align":"left","baseline":"alphabetic","fontSize":9.5,"dx":3.5,"dy":10},"encoding":{"x":{"datum":0},"y":{"datum":4000},"text":{"field":"m"}}},
    {"mark":{"type":"text","align":"left","baseline":"alphabetic","fontSize":6.3,"dx":48,"dy":11.5},"encoding":{"x":{"datum":0},"y":{"datum":4000},"text":{"field":"s"}}}]}]},
  {"width":102,"height":75,"layer":[
   {"data":{"name":"poly"},"transform":[{"filter":"datum.p=='157-556'"},{"fold":["Actin Only","10 nM","25 nM","100 nM","250 nM","500 nM"],"as":["conc","v"]}],
    "mark":{"type":"line","strokeWidth":2.2,"interpolate":"monotone"},
    "encoding":{"x":{"field":"t","type":"quantitative","scale":{"domain":[0,4000],"nice":false},"axis":{"values":[0,1000,2000,3000,4000],"format":"d","title":null}},
     "y":{"field":"v","type":"quantitative","scale":{"domain":[0,4000],"nice":false},"axis":{"values":[0,1000,2000,3000,4000],"format":"d","title":null}},
     "color":{"field":"conc","type":"nominal","scale":{"domain":["Actin Only","10 nM","25 nM","100 nM","250 nM","500 nM"],"range":["#000000","#ff22ff","#4499ee","#33ee33","#9933ee","#ff9922"]},"legend":null}}},
   {"data":{"values":[{"m":"GST-Sca2","s":"157-556"}]},"layer":[
    {"mark":{"type":"text","align":"left","baseline":"alphabetic","fontSize":9.5,"dx":3,"dy":10},"encoding":{"x":{"datum":0},"y":{"datum":4000},"text":{"field":"m"}}},
    {"mark":{"type":"text","align":"left","baseline":"alphabetic","fontSize":6.3,"dx":47.5,"dy":11.5},"encoding":{"x":{"datum":0},"y":{"datum":4000},"text":{"field":"s"}}}]}]},
  {"width":102,"height":75,"layer":[
   {"data":{"name":"poly"},"transform":[{"filter":"datum.p=='257-556'"},{"fold":["Actin Only","10 nM","25 nM","100 nM","250 nM","500 nM"],"as":["conc","v"]}],
    "mark":{"type":"line","strokeWidth":2.2,"interpolate":"monotone"},
    "encoding":{"x":{"field":"t","type":"quantitative","scale":{"domain":[0,4000],"nice":false},"axis":{"values":[0,1000,2000,3000,4000],"format":"d","title":null}},
     "y":{"field":"v","type":"quantitative","scale":{"domain":[0,4000],"nice":false},"axis":{"values":[0,1000,2000,3000,4000],"format":"d","title":null}},
     "color":{"field":"conc","type":"nominal","scale":{"domain":["Actin Only","10 nM","25 nM","100 nM","250 nM","500 nM"],"range":["#000000","#ff22ff","#4499ee","#33ee33","#9933ee","#ff9922"]},"legend":null}}},
   {"data":{"values":[{"m":"GST-Sca2","s":"257-556"}]},"layer":[
    {"mark":{"type":"text","align":"left","baseline":"alphabetic","fontSize":9.5,"dx":7,"dy":10},"encoding":{"x":{"datum":0},"y":{"datum":4000},"text":{"field":"m"}}},
    {"mark":{"type":"text","align":"left","baseline":"alphabetic","fontSize":6.3,"dx":51.5,"dy":11.5},"encoding":{"x":{"datum":0},"y":{"datum":4000},"text":{"field":"s"}}}]}]},
  {"width":102,"height":75,"layer":[
   {"data":{"name":"poly"},"transform":[{"filter":"datum.p=='357-556'"},{"fold":["Actin Only","10 nM","25 nM","100 nM","250 nM","500 nM"],"as":["conc","v"]}],
    "mark":{"type":"line","strokeWidth":2.2,"interpolate":"monotone"},
    "encoding":{"x":{"field":"t","type":"quantitative","scale":{"domain":[0,4000],"nice":false},"axis":{"values":[0,1000,2000,3000,4000],"format":"d","title":"Time (s)","titlePadding":3}},
     "y":{"field":"v","type":"quantitative","scale":{"domain":[0,4000],"nice":false},"axis":{"values":[0,1000,2000,3000,4000],"format":"d","title":null}},
     "color":{"field":"conc","type":"nominal","scale":{"domain":["Actin Only","10 nM","25 nM","100 nM","250 nM","500 nM"],"range":["#000000","#ff22ff","#4499ee","#33ee33","#9933ee","#ff9922"]},"legend":null}}},
   {"data":{"values":[{"m":"GST-Sca2","s":"357-556"}]},"layer":[
    {"mark":{"type":"text","align":"left","baseline":"alphabetic","fontSize":9.5,"dx":8,"dy":10},"encoding":{"x":{"datum":0},"y":{"datum":4000},"text":{"field":"m"}}},
    {"mark":{"type":"text","align":"left","baseline":"alphabetic","fontSize":6.3,"dx":52.5,"dy":11.5},"encoding":{"x":{"datum":0},"y":{"datum":4000},"text":{"field":"s"}}}]}]},
  {"width":102,"height":75,"layer":[
   {"data":{"name":"poly"},"transform":[{"filter":"datum.p=='457-556'"},{"fold":["Actin Only","10 nM","25 nM","100 nM","250 nM","500 nM"],"as":["conc","v"]}],
    "mark":{"type":"line","strokeWidth":2.2,"interpolate":"monotone"},
    "encoding":{"x":{"field":"t","type":"quantitative","scale":{"domain":[0,4000],"nice":false},"axis":{"values":[0,1000,2000,3000,4000],"format":"d","title":null}},
     "y":{"field":"v","type":"quantitative","scale":{"domain":[0,4000],"nice":false},"axis":{"values":[0,1000,2000,3000,4000],"format":"d","title":null}},
     "color":{"field":"conc","type":"nominal","scale":{"domain":["Actin Only","10 nM","25 nM","100 nM","250 nM","500 nM"],"range":["#000000","#ff22ff","#4499ee","#33ee33","#9933ee","#ff9922"]},"legend":null}}},
   {"data":{"values":[{"m":"GST-Sca2","s":"457-556"}]},"layer":[
    {"mark":{"type":"text","align":"left","baseline":"alphabetic","fontSize":9.5,"dx":8,"dy":10},"encoding":{"x":{"datum":0},"y":{"datum":4000},"text":{"field":"m"}}},
    {"mark":{"type":"text","align":"left","baseline":"alphabetic","fontSize":6.3,"dx":52.5,"dy":11.5},"encoding":{"x":{"datum":0},"y":{"datum":4000},"text":{"field":"s"}}}]}]},
  {"width":102,"height":75,"layer":[
   {"data":{"name":"poly"},"transform":[{"filter":"datum.p=='Δ309-347'"},{"fold":["Actin Only","10 nM","25 nM","100 nM","250 nM","500 nM"],"as":["conc","v"]}],
    "mark":{"type":"line","strokeWidth":2.2,"interpolate":"monotone"},
    "encoding":{"x":{"field":"t","type":"quantitative","scale":{"domain":[0,4000],"nice":false},"axis":{"values":[0,1000,2000,3000,4000],"format":"d","title":"Time (s)","titlePadding":3}},
     "y":{"field":"v","type":"quantitative","scale":{"domain":[0,2000],"nice":false},"axis":{"values":[0,500,1000,1500,2000],"format":"d","title":null}},
     "color":{"field":"conc","type":"nominal","scale":{"domain":["Actin Only","10 nM","25 nM","100 nM","250 nM","500 nM"],"range":["#000000","#ff22ff","#4499ee","#33ee33","#9933ee","#ff9922"]},
       "legend":{"orient":"none","legendX":111,"legendY":10.5,"title":null,"symbolType":"square","symbolSize":6,"symbolStrokeWidth":2.2,"labelFontSize":8.5,"rowPadding":-1.3,"labelOffset":7,"padding":0,"labelColor":"#000"}}}},
   {"data":{"values":[{"m":"GST-Sca2","s":"Δ309-347"}]},"layer":[
    {"mark":{"type":"text","align":"left","baseline":"alphabetic","fontSize":9.5,"dx":3.5,"dy":9.5},"encoding":{"x":{"datum":0},"y":{"datum":2000},"text":{"field":"m"}}},
    {"mark":{"type":"text","align":"left","baseline":"alphabetic","fontSize":6.3,"dx":48,"dy":11},"encoding":{"x":{"datum":0},"y":{"datum":2000},"text":{"field":"s"}}}]}]}
 ],
 "columns":3,"spacing":{"row":25.3,"column":24.5},"bounds":"flush",
 "resolve":{"scale":{"color":"independent"},"legend":{"color":"independent"}}}
],
"spacing":0,
"resolve":{"scale":{"color":"independent"},"legend":{"color":"independent"}}
}
